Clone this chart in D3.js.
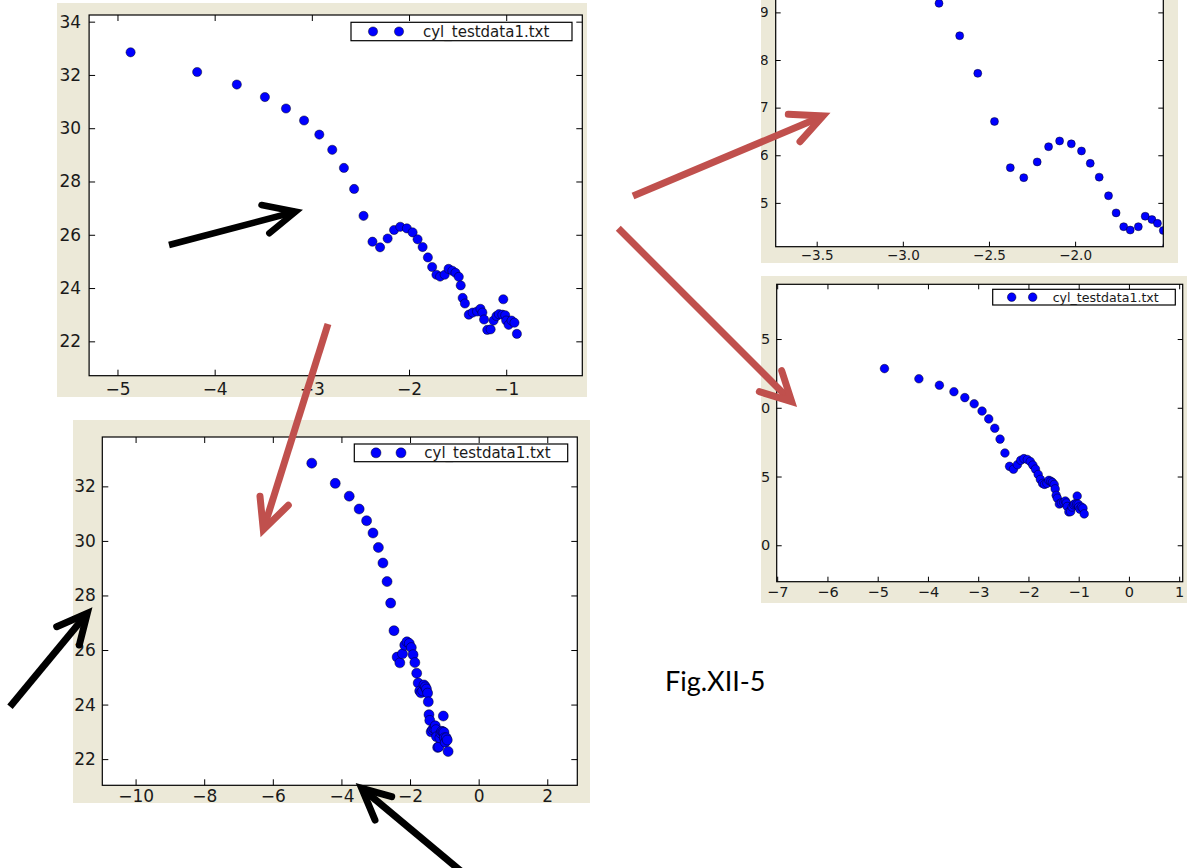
<!DOCTYPE html>
<html><head><meta charset="utf-8">
<script src="https://cdn.jsdelivr.net/npm/d3@7"></script>
<style>
body{margin:0;background:#fff;}
svg{display:block;}
text{font-family:"DejaVu Sans",sans-serif;}
</style>
</head><body>
<svg id="c" width="1187" height="868"></svg>
<script>
// ---------------- data ----------------
const seriesName = "cyl_testdata1.txt";
const xVals = [-4.865,-4.180,-3.772,-3.483,-3.266,-3.080,-2.923,-2.790,-2.670,-2.565,
  -2.468,-2.376,-2.298,-2.220,-2.154,-2.090,-2.022,-1.963,-1.912,-1.860,
  -1.806,-1.762,-1.718,-1.680,-1.633,-1.593,-1.554,-1.522,-1.488,-1.468,
  -1.448,-1.425,-1.385,-1.345,-1.300,-1.265,-1.245,-1.228,-1.195,-1.160,
  -1.130,-1.100,-1.075,-1.030,-1.040,-1.010,-1.000,-0.975,-0.945,-0.915,-0.890];
const yVals = [32.85,32.11,31.64,31.17,30.74,30.29,29.76,29.19,28.51,27.72,
  26.71,25.74,25.53,25.86,26.18,26.30,26.24,26.09,25.83,25.54,
  25.15,24.79,24.50,24.43,24.50,24.72,24.65,24.57,24.42,24.10,
  23.63,23.42,23.00,23.08,23.12,23.22,23.08,22.82,22.43,22.45,
  22.78,22.95,23.02,23.58,23.00,22.98,22.78,22.62,22.78,22.70,22.28];
const ticksA_x = [-5,-4,-3,-2,-1];
const ticksA_y = [22,24,26,28,30,32,34];
const ticksB_x = [-10,-8,-6,-4,-2,0,2];
const ticksB_y = [22,24,26,28,30,32];
const ticksC_x = [-3.5,-3.0,-2.5,-2.0];
const ticksC_y = [25,26,27,28,29];
const ticksD_x = [-7,-6,-5,-4,-3,-2,-1,0,1];
const ticksD_y = [20,25,30,35];
const figLabel = "Fig.XII-5";

// ---------------- layout ----------------
const BG = "#ece9d8", DOT = "#0000ff", RED = "#c0504d";
const panels = [
  {id:"A", bg:[57,3,587,397], plot:[89.1,15,582.3,375.7], xd:[-5.292,-0.217], yd:[20.71,34.25],
   xt:ticksA_x, yt:ticksA_y, xf:d3.format("d"), yf:d3.format("d"), fs:17, r:4.6, tick:6, padX:6.8, padY:8,
   legend:{box:[351,22.3,572,40.7], m:[373,399], tx:423, fs:15}},
  {id:"B", bg:[73,420,590,803], plot:[102.3,437,577.3,785.3], xd:[-10.97,2.875], yd:[21.04,33.81],
   xt:ticksB_x, yt:ticksB_y, xf:d3.format("d"), yf:d3.format("d"), fs:17, r:5, tick:6, padX:4.8, padY:6.5,
   legend:{box:[354.3,444,567.7,461.7], m:[376,401], tx:424.3, fs:15}},
  {id:"C", bg:[761,0,1178,263], plot:[775.7,-30,1163.3,246.7], xd:[-3.738,-1.488], yd:[24.08,29.89],
   xt:ticksC_x, yt:ticksC_y, xf:d3.format(".1f"), yf:d3.format("d"), fs:13.5, r:4, tick:5, padX:3.4, padY:7,
   legend:null},
  {id:"D", bg:[761,276,1187,603], plot:[776.7,284.3,1182.7,581.7], xd:[-7.01,1.07], yd:[17.35,38.98],
   xt:ticksD_x, yt:ticksD_y, xf:d3.format("d"), yf:d3.format("d"), fs:14.5, r:4.3, tick:5, padX:4.6, padY:6.5,
   legend:{box:[992.7,289.3,1175.3,305], m:[1011.7,1032.7], tx:1052.7, fs:12.6}}
];

const arrows = [
  {c:"#000", w:6.5, tail:[169,245], tip:[295.6,211.7], a1:[261.5,205], a2:[269.3,233.3]},
  {c:RED, w:7, tail:[633,196], tip:[823,116], a1:[788.3,114.3], a2:[800,141.7]},
  {c:RED, w:7, tail:[618.3,228.3], tip:[791.7,401.7], a1:[781.7,370.7], a2:[759.3,391.7]},
  {c:RED, w:7, tail:[328,324], tip:[263.3,529.7], a1:[260,496.3], a2:[288.3,505.3]},
  {c:"#000", w:7, tail:[10,706.7], tip:[87.3,613.3], a1:[56.7,626.7], a2:[79.3,645]},
  {c:"#000", w:7, tail:[462,872], tip:[361.7,788.3], a1:[391.7,796.7], a2:[375,820]}
];

// ---------------- drawing ----------------
const svg = d3.select("#c");
const defs = svg.append("defs");
const points = xVals.map((x,i)=>({x, y:yVals[i]}));

panels.forEach(p=>{
  const [bx0,by0,bx1,by1] = p.bg, [px0,py0,px1,py1] = p.plot;
  defs.append("clipPath").attr("id","bg"+p.id).append("rect")
    .attr("x",bx0).attr("y",by0).attr("width",bx1-bx0).attr("height",by1-by0);
  defs.append("clipPath").attr("id","pl"+p.id).append("rect")
    .attr("x",px0).attr("y",py0).attr("width",px1-px0).attr("height",py1-py0);
  const g = svg.append("g").attr("clip-path",`url(#bg${p.id})`);
  g.append("rect").attr("x",bx0).attr("y",by0).attr("width",bx1-bx0).attr("height",by1-by0).attr("fill",BG);
  g.append("rect").attr("x",px0).attr("y",py0).attr("width",px1-px0).attr("height",py1-py0).attr("fill","#fff");

  const x = d3.scaleLinear().domain(p.xd).range([px0,px1]);
  const y = d3.scaleLinear().domain(p.yd).range([py1,py0]);

  g.append("g").attr("clip-path",`url(#pl${p.id})`)
    .selectAll("circle").data(points).join("circle")
    .attr("cx",d=>x(d.x)).attr("cy",d=>y(d.y)).attr("r",p.r)
    .attr("fill",DOT).attr("stroke","#000").attr("stroke-width",0.6).attr("stroke-opacity",0.75);

  const styleAx = (sel, labels)=>{
    sel.select(".domain").remove();
    sel.selectAll(".tick line").attr("stroke","#000").attr("stroke-width",1);
    sel.selectAll("text").attr("fill","#1a1a1a").attr("font-size",p.fs).attr("font-family","DejaVu Sans, sans-serif");
    if(!labels) sel.selectAll("text").remove();
  };
  g.append("g").attr("transform",`translate(0,${py1})`)
    .call(d3.axisBottom(x).tickValues(p.xt).tickFormat(p.xf).tickSizeInner(-p.tick).tickSizeOuter(0).tickPadding(p.padX))
    .call(s=>styleAx(s,true));
  g.append("g").attr("transform",`translate(0,${py0})`)
    .call(d3.axisTop(x).tickValues(p.xt).tickSizeInner(-p.tick).tickSizeOuter(0))
    .call(s=>styleAx(s,false));
  g.append("g").attr("transform",`translate(${px0},0)`)
    .call(d3.axisLeft(y).tickValues(p.yt).tickFormat(p.yf).tickSizeInner(-p.tick).tickSizeOuter(0).tickPadding(p.padY))
    .call(s=>styleAx(s,true));
  g.append("g").attr("transform",`translate(${px1},0)`)
    .call(d3.axisRight(y).tickValues(p.yt).tickSizeInner(-p.tick).tickSizeOuter(0))
    .call(s=>styleAx(s,false));

  g.append("rect").attr("x",px0).attr("y",py0).attr("width",px1-px0).attr("height",py1-py0)
    .attr("fill","none").attr("stroke","#000").attr("stroke-width",1.2);

  if(p.legend){
    const L = p.legend, [lx0,ly0,lx1,ly1] = L.box, cy=(ly0+ly1)/2;
    const lg = g.append("g");
    lg.append("rect").attr("x",lx0).attr("y",ly0).attr("width",lx1-lx0).attr("height",ly1-ly0)
      .attr("fill","#fff").attr("stroke","#000").attr("stroke-width",1.2);
    lg.selectAll("circle").data(L.m).join("circle").attr("cx",d=>d).attr("cy",cy).attr("r",p.r)
      .attr("fill",DOT).attr("stroke","#000").attr("stroke-width",0.6).attr("stroke-opacity",0.75);
    lg.append("text").attr("x",L.tx).attr("y",cy).attr("dy","0.35em").attr("font-size",L.fs)
      .attr("fill","#1a1a1a").text(seriesName);
  }
});

arrows.forEach(a=>{
  svg.append("path").attr("d",`M${a.tail}L${a.tip}`).attr("stroke",a.c).attr("stroke-width",a.w)
    .attr("fill","none").attr("stroke-linecap","butt");
  svg.append("path").attr("d",`M${a.a1}L${a.tip}L${a.a2}`).attr("stroke",a.c).attr("stroke-width",a.w)
    .attr("fill","none").attr("stroke-linecap","round").attr("stroke-linejoin","miter").attr("stroke-miterlimit",10);
});

svg.append("text").attr("x",665).attr("y",690.5).attr("font-size",27).attr("fill","#000")
  .style("font-family","Lato, 'Open Sans', sans-serif").text(figLabel);
</script>
</body></html>
